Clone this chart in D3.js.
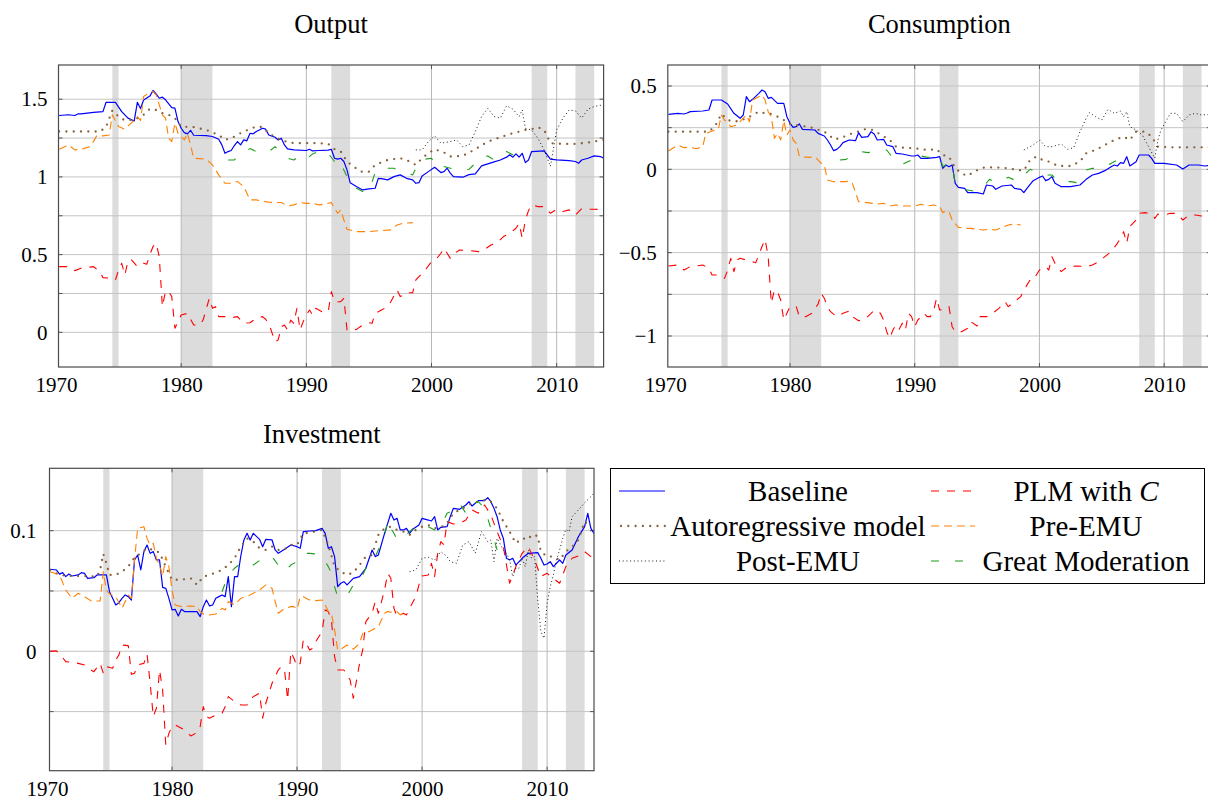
<!DOCTYPE html>
<html><head><meta charset="utf-8">
<script src="https://cdn.jsdelivr.net/npm/d3@7"></script>
<style>
body{margin:0;background:#fff}
svg{display:block}
</style>
</head><body>
<svg id="chart" width="1208" height="800"></svg>
<script>
// ---------- DATA ----------
const xTickYears = [1970, 1980, 1990, 2000, 2010];
const recessions = [[1974.5,1975.0],[1980.0,1982.5],[1992.0,1993.5],[2008.0,2009.25],[2011.5,2013.0]];
const seriesNames = ["Baseline","PLM with C","Autoregressive model","Pre-EMU","Post-EMU","Great Moderation"];

// Output
const outBaseline = [[1970.25,1.395],[1971,1.40],[1971.5,1.395],[1971.75,1.405],[1972,1.405],[1973,1.415],[1973.75,1.42],[1974,1.48],[1974.75,1.48],[1975.25,1.42],[1975.75,1.378],[1976.25,1.36],[1976.5,1.48],[1976.75,1.44],[1977,1.495],[1977.5,1.52],[1977.75,1.556],[1978,1.534],[1978.25,1.506],[1978.5,1.513],[1978.75,1.496],[1979.25,1.446],[1979.5,1.442],[1979.75,1.356],[1980,1.313],[1980.25,1.285],[1980.5,1.277],[1980.75,1.30],[1981,1.268],[1982,1.266],[1982.5,1.26],[1983,1.242],[1983.25,1.206],[1983.5,1.152],[1983.75,1.163],[1984,1.17],[1984.25,1.202],[1984.5,1.227],[1984.75,1.206],[1985,1.238],[1985.25,1.232],[1985.5,1.281],[1985.75,1.277],[1986,1.292],[1986.25,1.302],[1986.5,1.313],[1986.75,1.307],[1987,1.27],[1987.5,1.255],[1987.75,1.238],[1988,1.249],[1988.25,1.206],[1988.5,1.18],[1989,1.174],[1990,1.17],[1990.25,1.178],[1990.5,1.167],[1991,1.17],[1991.75,1.172],[1992,1.178],[1992.25,1.12],[1992.5,1.114],[1992.75,1.12],[1993,1.099],[1993.25,1.045],[1993.5,0.963],[1994,0.938],[1994.5,0.916],[1995,0.923],[1995.5,0.927],[1995.75,0.991],[1996,0.989],[1996.5,0.981],[1997,1.002],[1997.5,1.013],[1998,0.991],[1998.5,0.981],[1998.75,0.959],[1999,0.963],[1999.25,1.006],[1999.75,1.034],[2000.25,1.062],[2000.75,1.028],[2001,1.034],[2001.25,1.056],[2001.5,1.024],[2001.75,1.002],[2002.5,0.998],[2003,1.015],[2003.5,1.019],[2004,1.071],[2004.5,1.084],[2005,1.097],[2005.5,1.109],[2006,1.127],[2006.25,1.142],[2006.5,1.127],[2006.75,1.148],[2007,1.127],[2007.25,1.152],[2007.5,1.092],[2007.75,1.109],[2008,1.163],[2009,1.167],[2009.5,1.114],[2010,1.109],[2011,1.105],[2011.5,1.099],[2011.75,1.088],[2012,1.109],[2012.5,1.12],[2013,1.135],[2013.5,1.131],[2013.75,1.12]];
const outPLM = [[1970.25,0.423],[1971,0.423],[1971.5,0.397],[1972,0.412],[1972.5,0.418],[1973,0.423],[1973.5,0.39],[1973.75,0.352],[1974.5,0.348],[1974.75,0.337],[1975,0.401],[1975.25,0.444],[1975.5,0.369],[1975.75,0.459],[1976,0.47],[1976.5,0.423],[1977,0.444],[1977.25,0.438],[1977.5,0.498],[1977.75,0.552],[1978,0.573],[1978.25,0.487],[1978.5,0.165],[1978.75,0.266],[1979,0.262],[1979.25,0.23],[1979.5,0.026],[1980,0.112],[1980.5,0.122],[1981,0.047],[1981.5,0.047],[1981.75,0.079],[1982.25,0.219],[1982.5,0.155],[1982.75,0.165],[1983,0.101],[1983.5,0.101],[1984,0.094],[1984.5,0.101],[1985,0.058],[1985.5,0.062],[1986,0.09],[1986.5,0.101],[1986.75,0.084],[1987,0.058],[1987.5,-0.06],[1987.75,-0.049],[1988,0.036],[1988.25,0.047],[1988.5,0.015],[1988.75,0.079],[1989,0.058],[1989.25,0.155],[1989.5,0.015],[1989.75,0.069],[1990,0.112],[1990.25,0.144],[1990.5,0.112],[1990.75,0.155],[1991.25,0.133],[1991.75,0.133],[1992,0.262],[1992.25,0.197],[1992.75,0.197],[1993,0.219],[1993.25,0.015],[1993.5,0.009],[1994,0.019],[1994.5,0.047],[1995,0.062],[1995.25,0.058],[1995.5,0.122],[1996,0.144],[1996.5,0.165],[1996.75,0.197],[1997.25,0.273],[1997.5,0.23],[1997.75,0.24],[1998,0.255],[1998.5,0.255],[1998.75,0.337],[1999.25,0.38],[1999.5,0.401],[2000,0.455],[2000.5,0.483],[2000.75,0.509],[2001,0.541],[2001.25,0.509],[2001.5,0.476],[2001.75,0.504],[2002.25,0.53],[2003,0.526],[2003.75,0.519],[2004.25,0.534],[2004.75,0.562],[2005.25,0.577],[2005.75,0.616],[2006.25,0.637],[2006.75,0.67],[2007,0.702],[2007.25,0.605],[2007.5,0.723],[2007.75,0.783],[2008,0.82],[2008.5,0.809],[2009,0.809],[2009.25,0.788],[2009.5,0.766],[2010,0.792],[2010.5,0.777],[2011,0.788],[2011.5,0.755],[2012,0.796],[2012.5,0.792],[2013,0.792],[2013.5,0.79]];
const outAR = [[1970.25,1.292],[1973.5,1.292],[1974,1.32],[1974.5,1.427],[1975,1.388],[1975.5,1.363],[1976,1.367],[1976.5,1.378],[1977,1.40],[1977.5,1.438],[1978,1.431],[1978.5,1.41],[1979,1.40],[1979.5,1.378],[1980,1.324],[1981,1.32],[1982,1.302],[1983,1.27],[1983.5,1.238],[1984,1.249],[1985,1.292],[1986,1.324],[1986.5,1.32],[1987,1.281],[1988,1.234],[1989,1.217],[1991,1.217],[1991.75,1.212],[1992.25,1.178],[1992.75,1.163],[1993.25,1.099],[1993.75,1.067],[1994.5,1.03],[1995,1.034],[1995.5,1.077],[1996.5,1.109],[1997.5,1.12],[1998,1.109],[1998.75,1.077],[1999.25,1.12],[1999.75,1.152],[2000.25,1.178],[2001,1.157],[2001.5,1.131],[2002.5,1.135],[2003.5,1.178],[2004.5,1.227],[2005.5,1.255],[2006.5,1.281],[2007.5,1.302],[2008,1.307],[2008.5,1.32],[2009,1.302],[2009.5,1.217],[2010.5,1.212],[2011.5,1.212],[2012.5,1.221],[2013.75,1.238]];
const outPre = [[1970.25,1.178],[1971,1.206],[1971.5,1.174],[1972,1.178],[1972.75,1.195],[1973.25,1.264],[1973.75,1.264],[1974.25,1.27],[1974.5,1.399],[1975,1.324],[1975.5,1.307],[1976,1.346],[1976.5,1.388],[1976.75,1.363],[1977,1.517],[1977.5,1.543],[1977.75,1.549],[1978,1.528],[1978.5,1.399],[1978.75,1.378],[1979,1.249],[1979.25,1.227],[1979.5,1.346],[1979.75,1.281],[1980,1.26],[1980.25,1.238],[1980.5,1.281],[1980.75,1.206],[1981,1.12],[1982,1.114],[1982.5,1.077],[1983,1.013],[1983.5,0.959],[1984,0.959],[1984.5,0.97],[1985,0.938],[1985.5,0.852],[1986,0.852],[1987,0.837],[1988,0.835],[1988.5,0.813],[1989,0.82],[1989.5,0.835],[1990,0.83],[1990.5,0.83],[1991,0.82],[1991.5,0.826],[1992,0.835],[1992.25,0.798],[1992.5,0.766],[1992.75,0.788],[1993,0.723],[1993.25,0.663],[1994,0.648],[1995,0.648],[1996,0.655],[1996.75,0.659],[1997.25,0.691],[1997.75,0.702],[1998.5,0.706]];
const outPost = [[1998.75,1.174],[1999.25,1.174],[1999.75,1.227],[2000.25,1.264],[2000.75,1.217],[2001.5,1.227],[2002,1.238],[2002.5,1.195],[2003,1.206],[2003.5,1.292],[2004,1.388],[2004.5,1.442],[2005,1.388],[2005.5,1.378],[2006,1.457],[2006.5,1.436],[2007,1.388],[2007.25,1.431],[2007.5,1.313],[2008,1.302],[2008.5,1.249],[2009,1.174],[2009.5,1.067],[2010,1.302],[2010.5,1.378],[2011,1.431],[2011.5,1.425],[2012,1.378],[2012.5,1.436],[2013,1.453],[2013.75,1.464]];
const outGM = [[1983.75,1.109],[1984.25,1.109],[1984.75,1.152],[1985.5,1.182],[1986,1.163],[1986.5,1.152],[1987,1.163],[1987.5,1.195],[1988,1.152],[1988.5,1.12],[1989,1.109],[1989.5,1.135],[1990,1.152],[1990.25,1.131],[1990.5,1.148],[1991,1.163],[1991.5,1.142],[1991.75,1.152],[1992.25,1.099],[1992.5,1.067],[1992.75,1.088],[1993.5,0.959],[1994,0.927],[1994.5,0.906],[1995,0.906],[1995.5,1.028],[1996,1.024],[1996.5,1.056],[1997,1.056],[1997.5,1.034],[1998,1.024],[1998.5,1.013],[1999,1.099],[1999.5,1.114],[2000,1.12],[2000.5,1.056],[2001,1.067],[2001.5,1.056],[2002,1.045],[2002.5,1.045],[2003,1.049],[2003.5,1.088],[2004,1.127],[2004.5,1.135],[2005,1.109],[2005.5,1.152],[2006,1.163],[2006.5,1.142],[2006.75,1.163],[2007,1.109]];

// Consumption
const conBaseline = [[1970.25,0.33],[1971,0.336],[1971.5,0.332],[1971.75,0.338],[1972,0.346],[1973,0.35],[1973.5,0.356],[1973.75,0.416],[1974.5,0.416],[1975,0.392],[1975.5,0.336],[1976,0.306],[1976.25,0.326],[1976.5,0.436],[1976.75,0.406],[1977,0.42],[1977.5,0.456],[1977.75,0.476],[1978,0.466],[1978.25,0.426],[1978.5,0.432],[1979,0.396],[1979.5,0.396],[1979.75,0.316],[1980,0.276],[1980.25,0.252],[1980.5,0.256],[1980.75,0.272],[1981,0.24],[1982,0.236],[1982.25,0.216],[1982.75,0.2],[1983,0.176],[1983.25,0.146],[1983.5,0.112],[1983.75,0.12],[1984,0.136],[1984.25,0.16],[1984.75,0.176],[1985.25,0.172],[1985.5,0.22],[1985.75,0.192],[1986.25,0.196],[1986.5,0.226],[1986.75,0.212],[1987,0.176],[1987.5,0.18],[1987.75,0.146],[1988.25,0.136],[1988.5,0.096],[1989,0.092],[1989.75,0.08],[1990,0.08],[1990.25,0.086],[1990.5,0.066],[1991,0.066],[1991.75,0.072],[1992,0.076],[1992.25,0.006],[1992.5,0.026],[1992.75,0.016],[1993,0.026],[1993.25,-0.084],[1993.5,-0.108],[1994,-0.114],[1994.25,-0.14],[1995,-0.14],[1995.5,-0.148],[1995.75,-0.094],[1996.25,-0.1],[1996.5,-0.12],[1997,-0.1],[1997.75,-0.094],[1998,-0.114],[1998.5,-0.12],[1998.75,-0.14],[1999,-0.114],[1999.5,-0.068],[2000,-0.048],[2000.25,-0.04],[2000.5,-0.068],[2000.75,-0.06],[2001,-0.044],[2001.25,-0.084],[2001.75,-0.104],[2002.5,-0.104],[2003.25,-0.094],[2003.75,-0.06],[2004.25,-0.034],[2004.75,-0.024],[2005.25,-0.008],[2005.75,0.016],[2006,0.026],[2006.25,0.02],[2006.5,0.04],[2006.75,0.036],[2007,0.076],[2007.25,0.02],[2007.75,0.046],[2008,0.086],[2008.75,0.086],[2009,0.066],[2009.25,0.036],[2010,0.036],[2011,0.026],[2011.5,0.002],[2012,0.026],[2012.75,0.026],[2013.25,0.02],[2013.75,0.025]];
const conPLM = [[1970.25,-0.58],[1971,-0.574],[1971.5,-0.604],[1972,-0.584],[1972.5,-0.58],[1973,-0.574],[1973.5,-0.594],[1973.75,-0.634],[1974.25,-0.634],[1974.75,-0.654],[1975,-0.604],[1975.25,-0.534],[1975.5,-0.614],[1975.75,-0.544],[1976,-0.534],[1976.5,-0.544],[1977,-0.554],[1977.25,-0.56],[1977.5,-0.514],[1977.75,-0.464],[1978,-0.42],[1978.25,-0.524],[1978.5,-0.804],[1978.75,-0.724],[1979,-0.734],[1979.25,-0.784],[1979.5,-0.904],[1980,-0.824],[1980.5,-0.824],[1980.75,-0.884],[1981.25,-0.884],[1981.75,-0.864],[1982.25,-0.808],[1982.5,-0.744],[1982.75,-0.774],[1983,-0.824],[1983.25,-0.854],[1983.75,-0.884],[1984.25,-0.864],[1984.75,-0.85],[1985,-0.884],[1985.5,-0.908],[1986,-0.9],[1986.5,-0.864],[1986.75,-0.844],[1987.25,-0.864],[1987.5,-0.904],[1987.75,-0.974],[1988,-1.014],[1988.25,-0.964],[1988.5,-0.934],[1988.75,-0.96],[1989,-0.924],[1989.25,-0.964],[1989.5,-0.864],[1989.75,-0.884],[1990,-0.944],[1990.25,-0.904],[1990.5,-0.884],[1990.75,-0.864],[1991,-0.884],[1991.25,-0.884],[1991.5,-0.854],[1991.75,-0.774],[1992,-0.844],[1992.5,-0.84],[1992.75,-0.824],[1993,-0.944],[1993.25,-0.974],[1993.75,-0.974],[1994.25,-0.954],[1994.5,-0.914],[1995,-0.94],[1995.25,-0.884],[1995.75,-0.884],[1996.25,-0.864],[1996.75,-0.834],[1997.25,-0.794],[1997.5,-0.824],[1998,-0.794],[1998.5,-0.764],[1998.75,-0.724],[1999.25,-0.664],[1999.5,-0.664],[2000,-0.604],[2000.5,-0.584],[2000.75,-0.604],[2001,-0.524],[2001.25,-0.564],[2001.75,-0.614],[2002.25,-0.584],[2003,-0.58],[2003.75,-0.584],[2004.25,-0.574],[2004.75,-0.554],[2005.25,-0.524],[2005.75,-0.494],[2006.25,-0.444],[2006.5,-0.414],[2006.75,-0.374],[2007,-0.444],[2007.25,-0.344],[2007.75,-0.304],[2008,-0.264],[2008.5,-0.26],[2009,-0.268],[2009.25,-0.294],[2009.5,-0.268],[2010,-0.274],[2010.5,-0.264],[2011,-0.264],[2011.5,-0.304],[2012,-0.274],[2012.5,-0.274],[2013,-0.28],[2013.5,-0.28]];
const conAR = [[1970.25,0.226],[1973.5,0.226],[1974,0.26],[1974.5,0.332],[1975,0.296],[1975.5,0.286],[1976,0.292],[1976.5,0.306],[1977,0.326],[1977.5,0.346],[1978,0.336],[1978.5,0.332],[1979,0.316],[1979.5,0.296],[1980,0.272],[1981,0.26],[1982,0.246],[1983,0.216],[1983.5,0.18],[1984,0.186],[1985,0.216],[1986,0.24],[1986.5,0.24],[1987,0.22],[1988,0.176],[1988.5,0.136],[1989,0.13],[1990,0.126],[1991,0.116],[1991.75,0.12],[1992.25,0.086],[1992.75,0.076],[1993.25,0.006],[1993.75,-0.024],[1994.25,-0.04],[1994.75,-0.014],[1995.5,0.01],[1996.5,0.012],[1997.5,0.006],[1998.25,-0.004],[1998.75,-0.008],[1999.25,0.056],[1999.75,0.076],[2000.25,0.056],[2000.75,0.046],[2001.5,0.02],[2002.5,0.02],[2003.25,0.046],[2003.75,0.096],[2004.5,0.116],[2005.25,0.146],[2006,0.176],[2006.75,0.196],[2007.25,0.176],[2007.75,0.226],[2008.5,0.226],[2009,0.196],[2009.5,0.136],[2010.5,0.132],[2011.5,0.132],[2012.5,0.132],[2013.75,0.132]];
const conPre = [[1970.25,0.11],[1971,0.146],[1971.5,0.13],[1972,0.132],[1972.5,0.124],[1973,0.136],[1973.25,0.216],[1974,0.236],[1974.25,0.24],[1974.5,0.326],[1974.75,0.296],[1975.25,0.256],[1975.75,0.266],[1976,0.286],[1976.5,0.326],[1976.75,0.286],[1977,0.416],[1977.5,0.436],[1977.75,0.446],[1978,0.416],[1978.25,0.346],[1978.5,0.316],[1978.75,0.186],[1979,0.216],[1979.25,0.176],[1979.5,0.292],[1979.75,0.206],[1980,0.236],[1980.25,0.176],[1980.5,0.156],[1980.75,0.076],[1981.5,0.072],[1982,0.076],[1982.5,0.036],[1982.75,0.026],[1983,-0.064],[1983.5,-0.074],[1984,-0.074],[1984.5,-0.074],[1984.75,-0.068],[1985,-0.084],[1985.5,-0.194],[1986,-0.198],[1987,-0.208],[1987.5,-0.204],[1988,-0.22],[1988.5,-0.214],[1989,-0.22],[1990,-0.22],[1990.5,-0.21],[1991,-0.22],[1991.5,-0.214],[1992,-0.22],[1992.25,-0.26],[1992.5,-0.25],[1992.75,-0.254],[1993,-0.304],[1993.5,-0.348],[1994,-0.354],[1994.5,-0.354],[1995,-0.36],[1995.5,-0.364],[1996,-0.36],[1996.5,-0.364],[1997,-0.348],[1997.5,-0.334],[1998,-0.328],[1998.5,-0.334]];
const conPost = [[1998.75,0.116],[1999.5,0.146],[2000,0.176],[2000.5,0.136],[2001,0.136],[2001.75,0.152],[2002.25,0.12],[2002.75,0.13],[2003.25,0.226],[2003.75,0.306],[2004,0.34],[2004.5,0.316],[2005,0.296],[2005.5,0.36],[2006,0.336],[2006.5,0.35],[2006.75,0.316],[2007,0.346],[2007.25,0.256],[2007.75,0.236],[2008.25,0.206],[2008.75,0.136],[2009.25,0.066],[2009.5,0.176],[2009.75,0.236],[2010.5,0.336],[2011,0.336],[2011.5,0.286],[2012,0.326],[2012.5,0.336],[2013,0.326],[2013.75,0.33]];
const conGM = [[1984,0.056],[1984.5,0.06],[1985,0.08],[1985.75,0.106],[1986.25,0.1],[1987,0.116],[1987.75,0.116],[1988,0.092],[1988.5,0.046],[1989,0.03],[1989.75,0.056],[1990,0.036],[1990.5,0.08],[1991,0.072],[1992,0.076],[1992.25,0.016],[1992.5,0.026],[1993,0.036],[1993.25,-0.094],[1993.75,-0.12],[1994.25,-0.124],[1995,-0.134],[1995.5,-0.104],[1996,-0.06],[1996.5,-0.08],[1997,-0.068],[1997.5,-0.048],[1998,-0.064],[1998.5,-0.064],[1998.75,-0.034],[1999.25,0],[2000,-0.024],[2000.5,-0.034],[2001,-0.034],[2001.5,-0.074],[2002.5,-0.074],[2003,-0.08],[2003.75,-0.004],[2004.25,0.006],[2005,0.006],[2005.5,0.026],[2006.25,0.056],[2006.75,0.086],[2007,0.066]];

// Investment
const invBaseline = [[1970.25,0.068],[1970.75,0.0674],[1971,0.064],[1971.25,0.0652],[1971.5,0.0619],[1971.75,0.064],[1972,0.0624],[1972.5,0.0633],[1972.75,0.0652],[1973,0.0646],[1973.25,0.0605],[1973.75,0.061],[1974,0.0633],[1974.75,0.0633],[1975,0.0494],[1975.25,0.0439],[1975.5,0.0384],[1975.75,0.0403],[1976,0.0439],[1976.25,0.0467],[1976.5,0.0453],[1976.75,0.0425],[1977,0.0757],[1977.25,0.0798],[1977.5,0.0674],[1977.75,0.0826],[1978,0.0881],[1978.25,0.0812],[1978.5,0.0826],[1978.75,0.0757],[1979,0.0757],[1979.25,0.053],[1979.5,0.0522],[1979.75,0.0439],[1980,0.0343],[1980.25,0.0348],[1980.5,0.0293],[1980.75,0.0348],[1981,0.0329],[1982,0.0329],[1982.25,0.0287],[1982.5,0.037],[1982.75,0.0425],[1983,0.0376],[1983.25,0.0384],[1983.5,0.0439],[1983.75,0.0453],[1984,0.0467],[1984.25,0.0453],[1984.5,0.0619],[1984.75,0.037],[1985,0.0619],[1985.25,0.0619],[1985.5,0.079],[1985.75,0.0923],[1986,0.0978],[1986.25,0.0923],[1986.5,0.0978],[1987,0.0928],[1987.25,0.0867],[1987.5,0.0928],[1988,0.0923],[1988.25,0.084],[1988.5,0.0812],[1989,0.0845],[1989.5,0.0881],[1990,0.0867],[1990.25,0.0854],[1990.5,0.0992],[1991,0.0997],[1991.5,0.1],[1992,0.1019],[1992.25,0.0978],[1992.5,0.0854],[1992.75,0.0867],[1993,0.0785],[1993.25,0.0536],[1993.5,0.0564],[1993.75,0.0577],[1994,0.055],[1994.5,0.0605],[1995,0.0619],[1995.5,0.0688],[1996,0.084],[1996.25,0.0785],[1996.5,0.0798],[1997,0.0978],[1997.5,0.1144],[1997.75,0.1088],[1998,0.1102],[1998.25,0.1006],[1998.5,0.1006],[1998.75,0.1019],[1999,0.0978],[1999.25,0.1011],[1999.75,0.1047],[2000,0.1102],[2000.5,0.1088],[2000.75,0.108],[2001,0.1116],[2001.25,0.1006],[2001.5,0.1028],[2002,0.1033],[2002.25,0.1116],[2002.5,0.1185],[2003,0.1177],[2003.5,0.1213],[2003.75,0.124],[2004,0.1204],[2004.25,0.1227],[2004.5,0.1249],[2005,0.1249],[2005.25,0.1273],[2005.5,0.124],[2005.75,0.1185],[2006,0.1116],[2006.25,0.1006],[2006.5,0.0936],[2006.75,0.0771],[2007,0.0757],[2007.25,0.0771],[2007.5,0.0715],[2008,0.0771],[2008.5,0.0812],[2009.25,0.0818],[2009.5,0.0771],[2009.75,0.0715],[2010,0.0724],[2010.25,0.0743],[2010.5,0.0702],[2011,0.0757],[2011.25,0.0729],[2011.5,0.0798],[2012,0.084],[2012.5,0.095],[2012.75,0.0992],[2013,0.1033],[2013.25,0.1144],[2013.5,0.1019],[2013.75,0.0978]];
const invPLM = [[1970.25,0],[1970.75,0.0003],[1971,-0.0017],[1971.5,-0.0086],[1972,-0.0091],[1972.5,-0.01],[1973,-0.0113],[1973.5,-0.0155],[1973.75,-0.0169],[1974.25,-0.01],[1974.5,-0.0182],[1974.75,-0.0127],[1975.25,-0.0141],[1975.5,-0.0072],[1975.75,-0.003],[1976,0.0052],[1976.5,0.0047],[1976.75,-0.0191],[1977,-0.0182],[1977.25,-0.0113],[1977.75,-0.01],[1978,-0.0022],[1978.25,-0.0265],[1978.5,-0.0541],[1978.75,-0.0472],[1979,-0.0155],[1979.25,-0.032],[1979.5,-0.0776],[1979.75,-0.068],[1980,-0.0624],[1980.25,-0.061],[1980.75,-0.0638],[1981,-0.0652],[1981.5,-0.0702],[1982,-0.0674],[1982.25,-0.0624],[1982.5,-0.0459],[1982.75,-0.0541],[1983,-0.0555],[1983.5,-0.0528],[1984,-0.0514],[1984.25,-0.0459],[1984.5,-0.0376],[1985,-0.0417],[1985.5,-0.0445],[1986,-0.0445],[1986.5,-0.0376],[1987,-0.0348],[1987.25,-0.0555],[1987.5,-0.0431],[1988,-0.0265],[1988.5,-0.0155],[1988.75,-0.0127],[1989,-0.0155],[1989.25,-0.0403],[1989.5,-0.0003],[1989.75,-0.0058],[1990,-0.0127],[1990.25,-0.01],[1990.5,0.0094],[1990.75,0.0066],[1991,0.0011],[1991.25,0.0025],[1991.5,0.008],[1992,0.0163],[1992.25,0.0343],[1992.5,0.0329],[1992.75,0.026],[1993,-0.0044],[1993.25,-0.0155],[1993.75,-0.0155],[1994.25,-0.0238],[1994.5,-0.039],[1995,-0.01],[1995.25,0.0011],[1995.5,0.0246],[1996,0.0315],[1996.25,0.0412],[1996.5,0.0315],[1997,0.0508],[1997.25,0.0646],[1997.5,0.0605],[1997.75,0.0356],[1998,0.0287],[1998.5,0.0315],[1998.75,0.0301],[1999,0.0356],[1999.5,0.0453],[1999.75,0.055],[2000,0.0624],[2000.5,0.0633],[2000.75,0.0729],[2001,0.0619],[2001.25,0.0812],[2001.5,0.0909],[2001.75,0.0881],[2002,0.1075],[2002.5,0.1055],[2003,0.1061],[2003.5,0.1088],[2004,0.1171],[2004.5,0.1144],[2005,0.1213],[2005.5,0.113],[2006,0.0992],[2006.5,0.0867],[2007,0.0564],[2007.5,0.0702],[2008,0.0812],[2008.5,0.0867],[2009,0.0757],[2009.5,0.0619],[2010,0.0646],[2010.5,0.0605],[2011,0.0564],[2011.5,0.0702],[2012,0.0771],[2012.5,0.079],[2013,0.0826],[2013.5,0.0785],[2013.75,0.0812]];
const invAR = [[1970.25,0.0674],[1971,0.0633],[1972,0.0624],[1973,0.0624],[1974,0.0619],[1974.25,0.0674],[1974.5,0.0807],[1974.75,0.0729],[1975,0.0633],[1975.5,0.0633],[1976,0.066],[1976.5,0.0702],[1977,0.0779],[1977.5,0.0812],[1978,0.0854],[1978.5,0.084],[1979,0.0818],[1979.5,0.0702],[1980,0.0591],[1981,0.0597],[1981.5,0.0605],[1982,0.055],[1982.5,0.0619],[1983,0.0633],[1983.5,0.0652],[1984,0.0674],[1984.5,0.0715],[1985,0.0771],[1985.5,0.0867],[1986,0.0936],[1986.5,0.0909],[1987,0.0854],[1987.5,0.084],[1988,0.0867],[1988.5,0.084],[1989,0.0845],[1989.5,0.0881],[1990,0.0881],[1990.5,0.0978],[1991,0.0983],[1992,0.1006],[1992.5,0.0881],[1993,0.0702],[1993.5,0.066],[1994,0.0633],[1994.5,0.0652],[1995,0.0715],[1995.5,0.0785],[1996,0.0798],[1996.5,0.0964],[1997,0.1019],[1997.5,0.1033],[1998,0.1006],[1998.5,0.0992],[1999,0.0964],[1999.5,0.1006],[2000,0.1033],[2000.5,0.1047],[2001,0.1019],[2001.5,0.1028],[2002,0.1061],[2002.5,0.1144],[2003,0.1171],[2003.5,0.1199],[2004,0.1227],[2004.5,0.124],[2005,0.1254],[2005.5,0.124],[2006,0.1185],[2006.5,0.1075],[2007,0.0992],[2007.5,0.0895],[2008,0.0936],[2008.5,0.0928],[2008.75,0.0964],[2009.25,0.0956],[2009.5,0.0826],[2010,0.0785],[2010.5,0.0785],[2011,0.0757],[2011.5,0.0826],[2012,0.0867],[2012.5,0.0923],[2013,0.1075],[2013.5,0.1033]];
const invPre = [[1970.25,0.066],[1971,0.0633],[1971.5,0.0508],[1972,0.0439],[1972.5,0.0481],[1973,0.0453],[1973.5,0.042],[1974,0.0417],[1974.25,0.0417],[1974.5,0.066],[1974.75,0.0508],[1975,0.0475],[1975.5,0.0453],[1976,0.0356],[1976.5,0.0467],[1976.75,0.0439],[1977,0.0757],[1977.25,0.1019],[1977.75,0.1033],[1978,0.0936],[1978.25,0.0881],[1978.5,0.0895],[1978.75,0.0771],[1979,0.0715],[1979.25,0.0619],[1979.5,0.0785],[1979.75,0.0702],[1980,0.0508],[1980.25,0.0384],[1980.75,0.037],[1981.5,0.0376],[1982,0.037],[1982.25,0.0329],[1982.5,0.0309],[1983,0.0301],[1983.5,0.0309],[1984,0.0356],[1984.25,0.0343],[1984.5,0.0412],[1985,0.0384],[1985.5,0.0439],[1986,0.0453],[1986.5,0.0481],[1987,0.0508],[1987.5,0.055],[1988,0.0522],[1988.25,0.0412],[1988.5,0.0315],[1989,0.0356],[1989.5,0.037],[1989.75,0.037],[1990,0.0348],[1990.25,0.0453],[1990.5,0.0453],[1991,0.0425],[1991.5,0.042],[1992,0.0425],[1992.25,0.0384],[1992.5,0.0329],[1992.75,0.0315],[1993,0.0177],[1993.25,0.0011],[1993.5,0.0017],[1994,0.0052],[1994.5,0.0017],[1995,0.0066],[1995.25,0.0149],[1995.5,0.0149],[1996,0.0177],[1996.5,0.0204],[1996.75,0.026],[1997,0.0315],[1997.25,0.0329],[1997.75,0.032],[1998,0.0329],[1998.25,0.0301],[1998.5,0.0315]];
const invPost = [[1999,0.066],[1999.5,0.0674],[2000,0.0771],[2000.5,0.0779],[2001,0.0757],[2001.5,0.0826],[2002,0.0785],[2002.25,0.0743],[2002.75,0.0729],[2003.25,0.0881],[2003.75,0.0909],[2004.25,0.0812],[2004.75,0.0992],[2005.25,0.0909],[2005.5,0.0923],[2005.75,0.0743],[2006,0.0936],[2006.5,0.084],[2006.75,0.0812],[2007,0.0757],[2007.25,0.0619],[2007.5,0.0688],[2007.75,0.0688],[2008,0.0771],[2008.25,0.0702],[2008.5,0.084],[2008.75,0.0771],[2009,0.0785],[2009.25,0.0425],[2009.5,0.0163],[2009.75,0.0108],[2010,0.0398],[2010.25,0.0536],[2010.5,0.0633],[2010.75,0.0757],[2011,0.084],[2011.25,0.0936],[2011.5,0.1011],[2011.75,0.0992],[2012,0.1116],[2012.5,0.1171],[2013,0.1232],[2013.5,0.1282],[2013.75,0.131]];
const invGM = [[1984,0.0494],[1984.5,0.0633],[1985,0.0688],[1985.5,0.0729],[1986,0.0702],[1986.5,0.0715],[1987.5,0.079],[1988,0.0785],[1988.5,0.0715],[1989,0.066],[1989.5,0.0715],[1990,0.0743],[1990.5,0.0812],[1991,0.0812],[1991.5,0.0807],[1992,0.0785],[1992.5,0.0702],[1992.75,0.0646],[1993,0.0536],[1993.25,0.0453],[1993.75,0.0453],[1994,0.0459],[1994.5,0.055],[1995,0.0577],[1995.5,0.0688],[1996,0.0729],[1996.5,0.084],[1997,0.095],[1997.25,0.1088],[1997.5,0.1019],[1997.75,0.0978],[1998,0.0923],[1998.5,0.0936],[1999,0.0992],[1999.5,0.1039],[2000,0.1033],[2000.5,0.1033],[2001,0.1006],[2001.5,0.1033],[2002,0.1144],[2002.5,0.1171],[2003,0.1227],[2003.5,0.1144],[2004,0.1227],[2004.5,0.124],[2005,0.1185],[2005.5,0.1019],[2006,0.084],[2006.5,0.0743]];

// ---------- STYLES / LAYOUT ----------
const styles = [
  {color:"#0000ff", width:1.2, dash:null, cap:"butt"},
  {color:"#ff0000", width:1.1, dash:"8,8", cap:"butt"},
  {color:"#86603a", width:2.3, dash:"0,7.3", cap:"round"},
  {color:"#ff8000", width:1.1, dash:"8,5", cap:"butt"},
  {color:"#000000", width:0.9, dash:"1,2.7", cap:"butt"},
  {color:"#1c9e1c", width:1.1, dash:"8,16", cap:"butt"}
];

const panels = [
  {title:"Output", x0:58.5, x1:603.6, y0:65, y1:367, ydom:[-0.223,1.72],
   yTicks:[0,0.5,1,1.5], yLabels:["0","0.5","1","1.5"], yGrid:[0,0.25,0.5,0.75,1,1.25,1.5],
   series:[outBaseline,outPLM,outAR,outPre,outPost,outGM], titleY:33, labelPad:11},
  {title:"Consumption", x0:667.8, x1:1210.9, y0:65, y1:367, ydom:[-1.186,0.626],
   yTicks:[-1,-0.5,0,0.5], yLabels:["\u22121","\u22120.5","0","0.5"], yGrid:[-1,-0.75,-0.5,-0.25,0,0.25,0.5],
   series:[conBaseline,conPLM,conAR,conPre,conPost,conGM], titleY:33, labelPad:11},
  {title:"Investment", x0:49.5, x1:594, y0:468.3, y1:770.7, ydom:[-0.099,0.1517],
   yTicks:[0,0.1], yLabels:["0","0.1"], yGrid:[-0.05,0,0.05,0.1],
   series:[invBaseline,invPLM,invAR,invPre,invPost,invGM], titleY:443, labelPad:13}
];

const svg = d3.select("#chart");
const FONT = "Liberation Serif, Times New Roman, DejaVu Serif, serif";
const ser = sel => sel.attr("font-family", FONT).style("font-family", FONT);

panels.forEach((p, pi) => {
  const x = d3.scaleLinear().domain([1970.2, 2013.75]).range([p.x0, p.x1]);
  const y = d3.scaleLinear().domain(p.ydom).range([p.y1, p.y0]);
  const g = svg.append("g");
  const clipId = "clip" + pi;
  g.append("clipPath").attr("id", clipId).append("rect")
    .attr("x", p.x0).attr("y", p.y0).attr("width", p.x1 - p.x0).attr("height", p.y1 - p.y0);

  const inner = g.append("g").attr("clip-path", `url(#${clipId})`);
  inner.selectAll("rect.band").data(recessions).join("rect")
    .attr("x", d => x(d[0])).attr("width", d => x(d[1]) - x(d[0]))
    .attr("y", p.y0).attr("height", p.y1 - p.y0).attr("fill", "#dcdcdc");
  inner.selectAll("line.hg").data(p.yGrid).join("line")
    .attr("x1", p.x0).attr("x2", p.x1).attr("y1", d => y(d)).attr("y2", d => y(d))
    .attr("stroke", "#c4c4c4").attr("stroke-width", 1);
  inner.selectAll("line.vg").data(xTickYears.filter(d => d > 1970.2)).join("line")
    .attr("y1", p.y0).attr("y2", p.y1).attr("x1", d => x(d)).attr("x2", d => x(d))
    .attr("stroke", "#b8b8b8").attr("stroke-width", 1);
  const tk = 4;
  p.yGrid.forEach(v => {
    inner.append("line").attr("x1", p.x0).attr("x2", p.x0 + tk).attr("y1", y(v)).attr("y2", y(v)).attr("stroke", "#555");
    inner.append("line").attr("x1", p.x1 - tk).attr("x2", p.x1).attr("y1", y(v)).attr("y2", y(v)).attr("stroke", "#555");
  });
  xTickYears.filter(d => d > 1970.2).forEach(v => {
    inner.append("line").attr("x1", x(v)).attr("x2", x(v)).attr("y1", p.y1).attr("y2", p.y1 - tk).attr("stroke", "#555");
    inner.append("line").attr("x1", x(v)).attr("x2", x(v)).attr("y1", p.y0).attr("y2", p.y0 + tk).attr("stroke", "#555");
  });

  const line = d3.line().x(d => x(d[0])).y(d => y(d[1]));
  p.series.forEach((s, si) => {
    const st = styles[si];
    inner.append("path").datum(s).attr("d", line)
      .attr("fill", "none").attr("stroke", st.color).attr("stroke-width", st.width)
      .attr("stroke-dasharray", st.dash).attr("stroke-linecap", st.cap)
      .attr("stroke-linejoin", "round");
  });

  g.append("rect").attr("x", p.x0).attr("y", p.y0).attr("width", p.x1 - p.x0).attr("height", p.y1 - p.y0)
    .attr("fill", "none").attr("stroke", "#4a4a4a").attr("stroke-width", 1.2);

  const ax = d3.axisBottom(x).tickValues(xTickYears).tickFormat(d3.format("d")).tickSize(0).tickPadding(10);
  const gx = g.append("g").attr("transform", `translate(0,${p.y1})`).call(ax);
  gx.select(".domain").remove();
  ser(gx).attr("font-size", 21);
  ser(gx.selectAll("text")).attr("font-size", 21).attr("fill", "#000");

  const ay = d3.axisLeft(y).tickValues(p.yTicks).tickFormat((d, i) => p.yLabels[i]).tickSize(0).tickPadding(p.labelPad);
  const gy = g.append("g").attr("transform", `translate(${p.x0},0)`).call(ay);
  gy.select(".domain").remove();
  ser(gy).attr("font-size", 21);
  ser(gy.selectAll("text")).attr("font-size", 21).attr("fill", "#000");

  ser(g.append("text")).attr("x", (p.x0 + p.x1) / 2).attr("y", p.titleY).attr("text-anchor", "middle")
    .attr("font-size", 26.5).attr("fill", "#000").text(p.title);
});

// ---------- LEGEND ----------
const lg = svg.append("g");
lg.append("rect").attr("x", 610.5).attr("y", 468.5).attr("width", 594).attr("height", 115)
  .attr("fill", "#fff").attr("stroke", "#000").attr("stroke-width", 1);
const legendCols = [{lx0:619, lx1:665, tx:798}, {lx0:931, lx1:975, tx:1086}];
const rowY = [491, 526, 561];
seriesNames.forEach((name, i) => {
  const c = legendCols[i % 2], r = rowY[Math.floor(i / 2)], st = styles[i];
  lg.append("line").attr("x1", c.lx0 + (st.cap === "round" ? 2 : 0)).attr("x2", c.lx1).attr("y1", r).attr("y2", r)
    .attr("stroke", st.color).attr("stroke-width", st.width)
    .attr("stroke-dasharray", st.dash).attr("stroke-linecap", st.cap);
  const t = ser(lg.append("text")).attr("x", c.tx).attr("y", r + 10).attr("text-anchor", "middle")
    .attr("font-size", 29).attr("fill", "#000");
  if (name === "PLM with C") {
    t.append("tspan").text("PLM with ");
    t.append("tspan").attr("font-style", "italic").text("C");
  } else {
    t.text(name);
  }
});
</script>
</body></html>
